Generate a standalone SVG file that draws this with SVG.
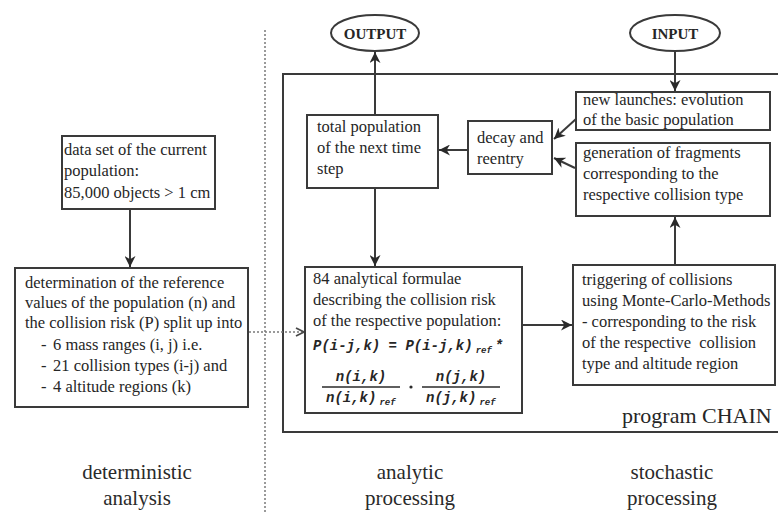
<svg xmlns="http://www.w3.org/2000/svg" width="778" height="512" viewBox="0 0 778 512">
<style>
.t { font-family: "Liberation Serif", "Times New Roman", serif; font-size: 16.5px; fill: #262626; }
.lbl { font-family: "Liberation Serif", "Times New Roman", serif; font-size: 21px; fill: #2a2a2a; text-anchor: middle; }
.io { font-family: "Liberation Serif", "Times New Roman", serif; font-size: 15px; font-weight: bold; fill: #262626; text-anchor: middle; }
.f { font-family: "Liberation Mono", "Courier New", monospace; font-size: 14px; font-style: italic; font-weight: bold; fill: #262626; }
.sub { font-size: 9px; }
.box { fill: #ffffff; stroke: #3a3a3a; stroke-width: 2; }
.ln { fill: none; stroke: #3a3a3a; stroke-width: 2; }
.dot { fill: none; stroke: #7a7a7a; stroke-width: 1.5; stroke-dasharray: 2 2; }
</style>
<defs>
<marker id="ah" viewBox="0 0 10 10" refX="10" refY="5" markerWidth="11" markerHeight="11" markerUnits="userSpaceOnUse" orient="auto">
<path d="M0,0 L10,5 L0,10 L3,5 z" fill="#2a2a2a"/>
</marker>
<marker id="oh" viewBox="0 0 10 10" refX="9" refY="5" markerWidth="10" markerHeight="10" markerUnits="userSpaceOnUse" orient="auto">
<path d="M1,1 L9,5 L1,9" fill="none" stroke="#4a4a4a" stroke-width="1.8"/>
</marker>
</defs>
<rect width="778" height="512" fill="#ffffff"/>

<!-- separator and frame -->
<g id="frame">
<line class="dot" x1="265" y1="30" x2="265" y2="512"/>
<rect class="ln" x="283" y="74" width="510" height="358"/>
<text class="t" x="622" y="423" style="font-size:22px">program CHAIN</text>
</g>

<!-- connectors -->
<g id="connectors">
<line class="ln" x1="130" y1="209" x2="130" y2="267" marker-end="url(#ah)"/>
<line class="dot" x1="249" y1="332" x2="304" y2="332" marker-end="url(#oh)"/>
<line class="ln" x1="375" y1="115" x2="375" y2="52" marker-end="url(#ah)"/>
<line class="ln" x1="375" y1="188" x2="375" y2="266" marker-end="url(#ah)"/>
<line class="ln" x1="468" y1="150" x2="439" y2="150" marker-end="url(#ah)"/>
<line class="ln" x1="522" y1="325" x2="572" y2="325" marker-end="url(#ah)"/>
<line class="ln" x1="675" y1="265" x2="675" y2="217" marker-end="url(#ah)"/>
<line class="ln" x1="675" y1="51" x2="675" y2="91" marker-end="url(#ah)"/>
<line class="ln" x1="576" y1="119" x2="554" y2="139" marker-end="url(#ah)"/>
<line class="ln" x1="575" y1="168" x2="554" y2="158" marker-end="url(#ah)"/>
</g>

<g id="output">
<ellipse class="box" cx="375" cy="33" rx="44" ry="18"/>
<text class="io" x="375" y="39">OUTPUT</text>
</g>

<g id="input">
<ellipse class="box" cx="675" cy="33" rx="45" ry="18"/>
<text class="io" x="675" y="39">INPUT</text>
</g>

<g id="dataset">
<rect class="box" x="62" y="136" width="153" height="73"/>
<text class="t" x="64" y="155">data set of the current</text>
<text class="t" x="64" y="176">population:</text>
<text class="t" x="64" y="198">85,000 objects &gt; 1 cm</text>
</g>

<g id="determination">
<rect class="box" x="15" y="268" width="233" height="139"/>
<text class="t" x="25" y="288">determination of the reference</text>
<text class="t" x="25" y="308">values of the population (n) and</text>
<text class="t" x="25" y="328">the collision risk (P) split up into</text>
<text class="t" y="350"><tspan x="41">-</tspan><tspan x="53">6 mass ranges (i, j) i.e.</tspan></text>
<text class="t" y="371"><tspan x="41">-</tspan><tspan x="53">21 collision types (i-j) and</tspan></text>
<text class="t" y="392"><tspan x="41">-</tspan><tspan x="53">4 altitude regions (k)</tspan></text>
</g>

<g id="total">
<rect class="box" x="307" y="115" width="131" height="73"/>
<text class="t" x="317" y="132">total population</text>
<text class="t" x="317" y="153">of the next time</text>
<text class="t" x="317" y="174">step</text>
</g>

<g id="decay">
<rect class="box" x="468" y="121" width="84" height="53"/>
<text class="t" x="477" y="143">decay and</text>
<text class="t" x="477" y="164">reentry</text>
</g>

<g id="launches">
<rect class="box" x="576" y="92" width="194" height="38"/>
<text class="t" x="583" y="105">new launches: evolution</text>
<text class="t" x="583" y="125">of the basic population</text>
</g>

<g id="fragments">
<rect class="box" x="576" y="143" width="194" height="73"/>
<text class="t" x="583" y="158">generation of fragments</text>
<text class="t" x="583" y="179">corresponding to the</text>
<text class="t" x="583" y="200">respective collision type</text>
</g>

<g id="formulae">
<rect class="box" x="305" y="267" width="217" height="146"/>
<text class="t" x="313" y="284">84 analytical formulae</text>
<text class="t" x="313" y="305">describing the collision risk</text>
<text class="t" x="313" y="326">of the respective population:</text>
<text class="f" x="313" y="350">P(i-j,k) = P(i-j,k)<tspan class="sub" dx="3" dy="3">ref</tspan><tspan dx="3" dy="-3">*</tspan></text>
<text class="f" x="361" y="381" text-anchor="middle">n(i,k)</text>
<line x1="322" y1="387" x2="400" y2="387" stroke="#2a2a2a" stroke-width="1.3"/>
<text class="f" x="326" y="402">n(i,k)<tspan class="sub" dx="3" dy="3">ref</tspan></text>
<circle cx="411" cy="387" r="1.6" fill="#2a2a2a"/>
<text class="f" x="461" y="381" text-anchor="middle">n(j,k)</text>
<line x1="422" y1="387" x2="500" y2="387" stroke="#2a2a2a" stroke-width="1.3"/>
<text class="f" x="426" y="402">n(j,k)<tspan class="sub" dx="3" dy="3">ref</tspan></text>
</g>

<g id="triggering">
<rect class="box" x="573" y="265" width="202" height="120"/>
<text class="t" x="582" y="285">triggering of collisions</text>
<text class="t" x="582" y="306">using Monte-Carlo-Methods</text>
<text class="t" x="582" y="327">- corresponding to the risk</text>
<text class="t" x="582" y="348" xml:space="preserve">of the respective  collision</text>
<text class="t" x="582" y="369">type and altitude region</text>
</g>

<g id="labels">
<text class="lbl" x="137" y="479">deterministic</text>
<text class="lbl" x="137" y="505">analysis</text>
<text class="lbl" x="410" y="479">analytic</text>
<text class="lbl" x="410" y="505">processing</text>
<text class="lbl" x="672" y="479">stochastic</text>
<text class="lbl" x="672" y="505">processing</text>
</g>
</svg>
